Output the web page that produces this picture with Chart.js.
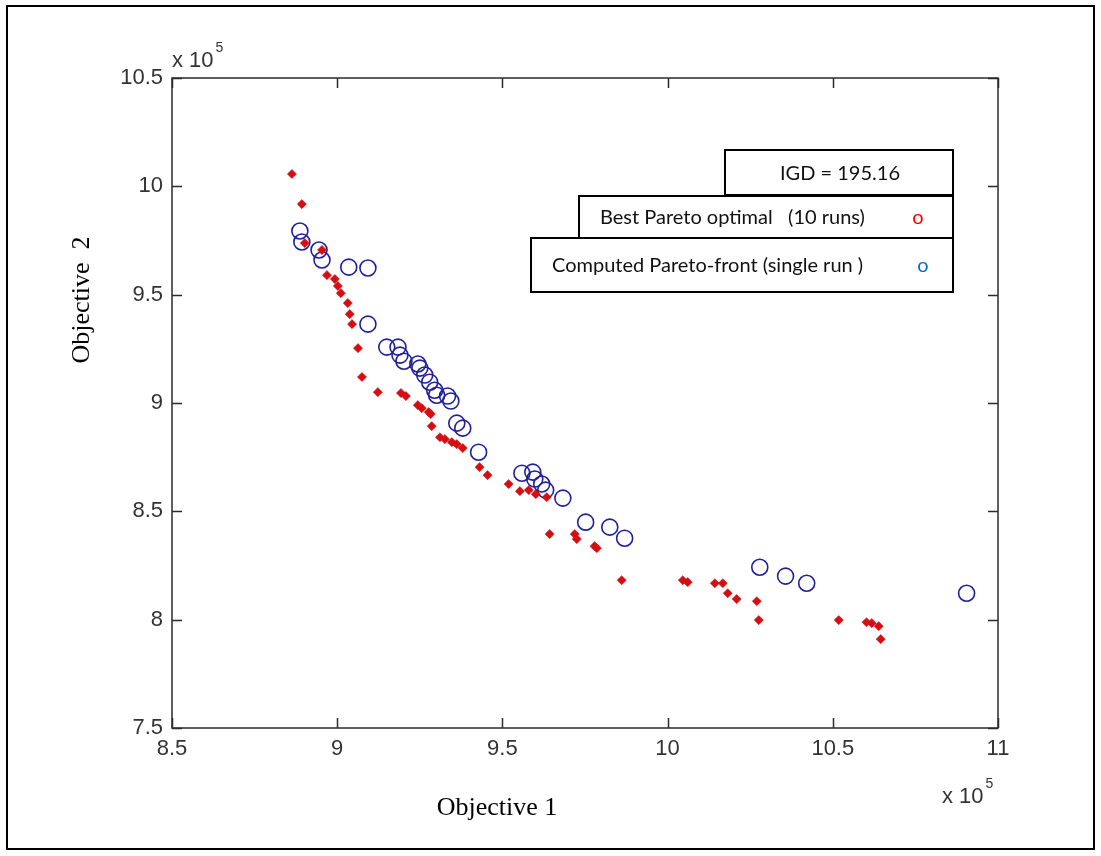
<!DOCTYPE html>
<html>
<head>
<meta charset="utf-8">
<title>Pareto fronts</title>
<script src="https://cdn.jsdelivr.net/npm/chart.js@4.4.1/dist/chart.umd.min.js"></script>
<style>
  html, body { margin: 0; padding: 0; background: #ffffff; }
  #wrap { position: relative; width: 1101px; height: 856px; }
</style>
</head>
<body>
<div id="wrap"><canvas id="cv" width="1101" height="856"></canvas></div>
<script>
// Objective values in units of 10^5
const bestObj1 = [8.863, 8.893, 8.902, 8.954, 8.969, 8.993, 9.002, 9.011, 9.032, 9.038, 9.045, 9.063, 9.075,
  9.123, 9.193, 9.208, 9.244, 9.256, 9.277, 9.283, 9.286, 9.311, 9.326, 9.347, 9.362, 9.380, 9.431, 9.455,
  9.519, 9.553, 9.580, 9.601, 9.634, 9.643, 9.719, 9.725, 9.779, 9.786, 9.861, 10.046, 10.061, 10.143,
  10.167, 10.182, 10.209, 10.270, 10.276, 10.518, 10.602, 10.618, 10.639, 10.645];
const bestObj2 = [10.057, 9.918, 9.738, 9.706, 9.590, 9.572, 9.540, 9.507, 9.461, 9.410, 9.364, 9.253, 9.120,
  9.050, 9.046, 9.032, 8.990, 8.976, 8.958, 8.949, 8.893, 8.842, 8.833, 8.819, 8.810, 8.792, 8.704, 8.667,
  8.626, 8.593, 8.598, 8.579, 8.565, 8.395, 8.395, 8.372, 8.339, 8.330, 8.182, 8.182, 8.173, 8.168,
  8.168, 8.122, 8.095, 8.085, 7.998, 7.998, 7.988, 7.984, 7.970, 7.910];

const runObj1 = [8.887, 8.893, 8.945, 8.954, 9.035, 9.093, 9.093, 9.150, 9.184, 9.190, 9.202, 9.244, 9.250,
  9.265, 9.280, 9.295, 9.301, 9.334, 9.344, 9.362, 9.380, 9.428, 9.559, 9.592, 9.598, 9.619, 9.631, 9.683,
  9.752, 9.825, 9.870, 10.279, 10.357, 10.421, 10.905];
const runObj2 = [9.794, 9.743, 9.706, 9.660, 9.627, 9.623, 9.364, 9.258, 9.258, 9.221, 9.193, 9.180, 9.161,
  9.129, 9.096, 9.059, 9.036, 9.032, 9.009, 8.907, 8.884, 8.773, 8.676, 8.681, 8.649, 8.626, 8.598, 8.561,
  8.450, 8.427, 8.376, 8.242, 8.201, 8.168, 8.122];

const xTicks = [8.5, 9, 9.5, 10, 10.5, 11];
const yTicks = [7.5, 8, 8.5, 9, 9.5, 10, 10.5];

const legendLines = [
  { text: 'IGD = 195.16', mark: '', markColor: '' },
  { text: 'Best Pareto optimal   (10 runs)', mark: 'o', markColor: '#ff0000' },
  { text: 'Computed Pareto-front (single run )', mark: 'o', markColor: '#0070c0' }
];

const toPoints = (xs, ys) => xs.map((x, i) => ({ x: x, y: ys[i] }));

const TICK_FAMILY = '"Liberation Sans", Arial, sans-serif';
const TICK_COLOR = '#333333';

// "x 10^5" multiplier with a raised exponent
function drawMultiplier(c, x, baseline) {
  c.font = '22px ' + TICK_FAMILY;
  c.textAlign = 'left';
  c.textBaseline = 'alphabetic';
  c.fillText('x 10', x, baseline);
  const w = c.measureText('x 10').width;
  c.font = '14px ' + TICK_FAMILY;
  c.fillText('5', x + w + 2, baseline - 15);
}

// Frame, box, inward tick marks, multipliers, axis titles and the note boxes
const decor = {
  id: 'decor',
  beforeDraw(chart) {
    const c = chart.ctx;
    c.save();
    c.fillStyle = '#ffffff';
    c.fillRect(0, 0, chart.width, chart.height);
    c.restore();
  },
  afterDatasetsDraw(chart) {
    const c = chart.ctx;
    const a = chart.chartArea;
    const xs = chart.scales.x, ys = chart.scales.y;
    c.save();
    // axes box
    c.strokeStyle = '#2b2b2b';
    c.lineWidth = 1.5;
    c.strokeRect(a.left, a.top, a.right - a.left, a.bottom - a.top);
    // inward ticks
    c.beginPath();
    xTicks.forEach(v => {
      const px = Math.round(xs.getPixelForValue(v)) + 0.5;
      c.moveTo(px, a.bottom); c.lineTo(px, a.bottom - 10);
      c.moveTo(px, a.top); c.lineTo(px, a.top + 10);
    });
    yTicks.forEach(v => {
      const py = Math.round(ys.getPixelForValue(v)) + 0.5;
      c.moveTo(a.left, py); c.lineTo(a.left + 10, py);
      c.moveTo(a.right, py); c.lineTo(a.right - 10, py);
    });
    c.stroke();

    // exponent labels
    c.fillStyle = TICK_COLOR;
    drawMultiplier(c, a.left, a.top - 11);
    drawMultiplier(c, a.right - 56, a.bottom + 75);

    // axis titles
    c.fillStyle = '#000000';
    c.font = '26px "Liberation Serif", "Times New Roman", serif';
    c.textAlign = 'center';
    c.textBaseline = 'middle';
    c.fillText('Objective 1', 497, 808);
    c.save();
    c.translate(82, 300);
    c.rotate(-Math.PI / 2);
    c.fillText('Objective  2', 0, 0);
    c.restore();

    // note boxes
    const boxes = [
      { l: 725, t: 150, r: 953, b: 195, tx: 840, align: 'center' },
      { l: 579, t: 196, r: 953, b: 238, tx: 600, align: 'left', mx: 918 },
      { l: 531, t: 238, r: 953, b: 292, tx: 552, align: 'left', mx: 923 }
    ];
    c.font = '20px Lato, "Open Sans", sans-serif';
    boxes.forEach((bx, i) => {
      c.fillStyle = '#ffffff';
      c.fillRect(bx.l, bx.t, bx.r - bx.l, bx.b - bx.t);
      c.strokeStyle = '#000000';
      c.lineWidth = 2;
      c.strokeRect(bx.l, bx.t, bx.r - bx.l, bx.b - bx.t);
      const cy = (bx.t + bx.b) / 2 + 1;
      const ln = legendLines[i];
      c.fillStyle = '#111111';
      c.textAlign = bx.align;
      c.textBaseline = 'middle';
      c.fillText(ln.text, bx.tx, cy);
      if (ln.mark) {
        c.fillStyle = ln.markColor;
        c.textAlign = 'center';
        c.fillText(ln.mark, bx.mx, cy);
      }
    });

    // outer frame
    c.strokeStyle = '#000000';
    c.lineWidth = 2;
    c.strokeRect(7, 6, 1087, 843);
    c.restore();
  }
};

new Chart(document.getElementById('cv'), {
  type: 'scatter',
  data: {
    datasets: [
      {
        label: 'Best Pareto optimal (10 runs)',
        data: toPoints(bestObj1, bestObj2),
        pointStyle: 'rectRot',
        pointRadius: 4.6,
        backgroundColor: '#d40f14',
        borderColor: '#d40f14',
        borderWidth: 0.5
      },
      {
        label: 'Computed Pareto-front (single run)',
        data: toPoints(runObj1, runObj2),
        pointStyle: 'circle',
        pointRadius: 8,
        backgroundColor: 'rgba(0,0,0,0)',
        borderColor: '#20209a',
        borderWidth: 1.6
      }
    ]
  },
  options: {
    responsive: false,
    animation: false,
    devicePixelRatio: 1,
    layout: { padding: { left: 0, right: 103, top: 78, bottom: 0 } },
    plugins: {
      legend: { display: false },
      tooltip: { enabled: false }
    },
    scales: {
      x: {
        type: 'linear',
        min: 8.5, max: 11,
        afterBuildTicks: s => { s.ticks = xTicks.map(v => ({ value: v })); },
        afterFit: s => { s.height = 128; },
        grid: { display: false, drawTicks: false },
        border: { display: false },
        ticks: {
          autoSkip: false,
          maxRotation: 0,
          padding: 8,
          color: TICK_COLOR,
          font: { family: TICK_FAMILY, size: 22 },
          callback: v => String(+Number(v).toFixed(1))
        }
      },
      y: {
        type: 'linear',
        min: 7.5, max: 10.5,
        afterBuildTicks: s => { s.ticks = yTicks.map(v => ({ value: v })); },
        afterFit: s => { s.width = 172; },
        grid: { display: false, drawTicks: false },
        border: { display: false },
        ticks: {
          autoSkip: false,
          padding: 9,
          color: TICK_COLOR,
          font: { family: TICK_FAMILY, size: 22 },
          callback: v => String(+Number(v).toFixed(1))
        }
      }
    }
  },
  plugins: [decor]
});
</script>
</body>
</html>
